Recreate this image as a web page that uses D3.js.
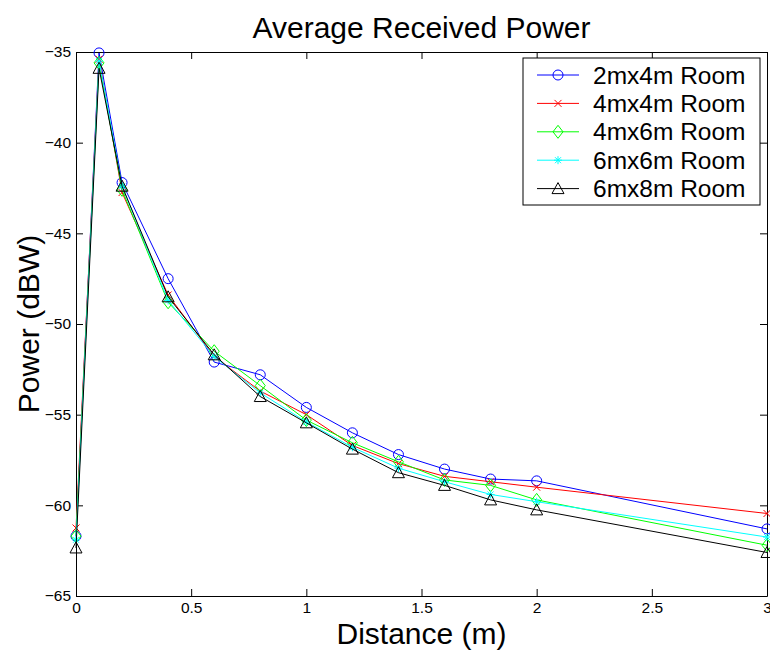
<!DOCTYPE html>
<html>
<head>
<meta charset="utf-8">
<script src="https://cdn.jsdelivr.net/npm/d3@7"></script>
<style>
  body { margin: 0; background: #fff; }
  svg { display: block; font-family: "Liberation Sans", Arial, Helvetica, sans-serif; }
</style>
</head>
<body>
<svg id="chart" width="770" height="652"></svg>
<script>
// distances (m)
var distances = [0, 0.1, 0.2, 0.4, 0.6, 0.8, 1.0, 1.2, 1.4, 1.6, 1.8, 2.0, 3.0];

// average received power (dBW), one array per room
var room2x4 = [-61.7, -35.05, -42.2, -47.5, -52.1, -52.8, -54.6, -56.0, -57.2, -58.0, -58.55, -58.65, -61.3];
var room4x4 = [-61.25, -35.4, -42.75, -48.4, -51.8, -53.7, -55.0, -56.7, -57.7, -58.4, -58.7, -59.0, -60.45];
var room4x6 = [-61.7, -35.6, -42.6, -48.8, -51.5, -53.4, -55.3, -56.55, -57.6, -58.6, -58.9, -59.7, -62.2];
var room6x6 = [-61.9, -35.5, -42.4, -48.7, -51.8, -53.8, -55.4, -56.8, -57.95, -58.7, -59.4, -59.8, -61.75];
var room6x8 = [-62.35, -35.9, -42.4, -48.5, -51.7, -54.0, -55.45, -56.9, -58.2, -58.9, -59.7, -60.25, -62.6];

var seriesNames = ["2mx4m Room", "4mx4m Room", "4mx6m Room", "6mx6m Room", "6mx8m Room"];
var seriesValues = [room2x4, room4x4, room4x6, room6x6, room6x8];
var seriesColors = ["#0000ff", "#ff0000", "#00ff00", "#00ffff", "#000000"];
var seriesMarkers = ["circle", "x", "diamond", "star", "triangle"];

var xTicks = [0, 0.5, 1, 1.5, 2, 2.5, 3];
var yTicks = [-65, -60, -55, -50, -45, -40, -35];

var margin = {top: 52, right: 3, bottom: 56, left: 76};
var width = 770, height = 652;

var svg = d3.select("#chart");

var x = d3.scaleLinear().domain([0, 3]).range([margin.left, width - margin.right]);
var y = d3.scaleLinear().domain([-65, -35]).range([height - margin.bottom, margin.top]);

var tickLen = 7;

// axes with inward ticks (matlab style), mirrored on top/right
var fmt = function(d) { return d3.format("")(d).replace("-", "\u2212"); };

svg.append("g")
    .attr("transform", "translate(0," + y(-65) + ")")
    .call(d3.axisBottom(x).tickValues(xTicks).tickFormat(fmt).tickSizeInner(-tickLen).tickSizeOuter(0).tickPadding(6))
    .call(styleAxis);
svg.append("g")
    .attr("transform", "translate(0," + y(-35) + ")")
    .call(d3.axisTop(x).tickValues(xTicks).tickFormat("").tickSizeInner(-tickLen).tickSizeOuter(0))
    .call(styleAxis);
svg.append("g")
    .attr("transform", "translate(" + x(0) + ",0)")
    .call(d3.axisLeft(y).tickValues(yTicks).tickFormat(fmt).tickSizeInner(-tickLen).tickSizeOuter(0).tickPadding(5))
    .call(styleAxis);
svg.append("g")
    .attr("transform", "translate(" + x(3) + ",0)")
    .call(d3.axisRight(y).tickValues(yTicks).tickFormat("").tickSizeInner(-tickLen).tickSizeOuter(0))
    .call(styleAxis);

function styleAxis(g) {
  g.select(".domain").attr("stroke", "#000").attr("stroke-width", 1);
  g.selectAll(".tick line").attr("stroke", "#000");
  g.selectAll(".tick text").attr("font-size", 15.5).attr("fill", "#000")
      .attr("font-family", "'Liberation Sans', Arial, sans-serif");
}

function markerPath(type) {
  if (type === "circle") return d3.symbol().type(d3.symbolCircle).size(Math.PI * 25)();
  if (type === "x") return "M-3.5,-3.5L3.5,3.5M-3.5,3.5L3.5,-3.5";
  if (type === "diamond") return "M0,-6.5L5,0L0,6.5L-5,0Z";
  if (type === "star") return "M-4,0L4,0M0,-4L0,4M-3,-3L3,3M-3,3L3,-3";
  return "M0,-6L6,5L-6,5Z";
}

var line = d3.line()
    .x(function(d) { return x(d[0]); })
    .y(function(d) { return y(d[1]); });

var plot = svg.append("g");

seriesValues.forEach(function(vals, i) {
  var pts = distances.map(function(d, j) { return [d, vals[j]]; });
  var g = plot.append("g");
  g.append("path")
      .attr("d", line(pts))
      .attr("fill", "none")
      .attr("stroke", seriesColors[i])
      .attr("stroke-width", 1);
  g.selectAll("path.mk")
    .data(pts)
    .enter().append("path")
      .attr("class", "mk")
      .attr("transform", function(d) { return "translate(" + x(d[0]) + "," + y(d[1]) + ")"; })
      .attr("d", markerPath(seriesMarkers[i]))
      .attr("fill", "none")
      .attr("stroke", seriesColors[i])
      .attr("stroke-width", 1);
});

// title and axis labels
svg.append("text")
    .attr("x", (x(0) + x(3)) / 2)
    .attr("y", 38)
    .attr("text-anchor", "middle")
    .attr("font-size", 30)
    .text("Average Received Power");

svg.append("text")
    .attr("x", (x(0) + x(3)) / 2)
    .attr("y", 644)
    .attr("text-anchor", "middle")
    .attr("font-size", 30)
    .text("Distance (m)");

svg.append("text")
    .attr("transform", "translate(39," + ((y(-35) + y(-65)) / 2) + ") rotate(-90)")
    .attr("text-anchor", "middle")
    .attr("font-size", 30)
    .text("Power (dBW)");

// legend
var legend = svg.append("g").attr("transform", "translate(523,58)");
legend.append("rect")
    .attr("width", 237)
    .attr("height", 147)
    .attr("fill", "#fff")
    .attr("stroke", "#000");

var item = legend.selectAll("g.item")
  .data(seriesNames)
  .enter().append("g")
    .attr("class", "item")
    .attr("transform", function(d, i) { return "translate(0," + (17 + i * 28.4) + ")"; });

item.append("line")
    .attr("x1", 14).attr("x2", 56)
    .attr("stroke", function(d, i) { return seriesColors[i]; });
item.append("path")
    .attr("transform", "translate(35,0)")
    .attr("d", function(d, i) { return markerPath(seriesMarkers[i]); })
    .attr("fill", "none")
    .attr("stroke", function(d, i) { return seriesColors[i]; });
item.append("text")
    .attr("x", 70)
    .attr("y", 8.5)
    .attr("font-size", 24.5)
    .text(function(d) { return d; });
</script>
</body>
</html>
